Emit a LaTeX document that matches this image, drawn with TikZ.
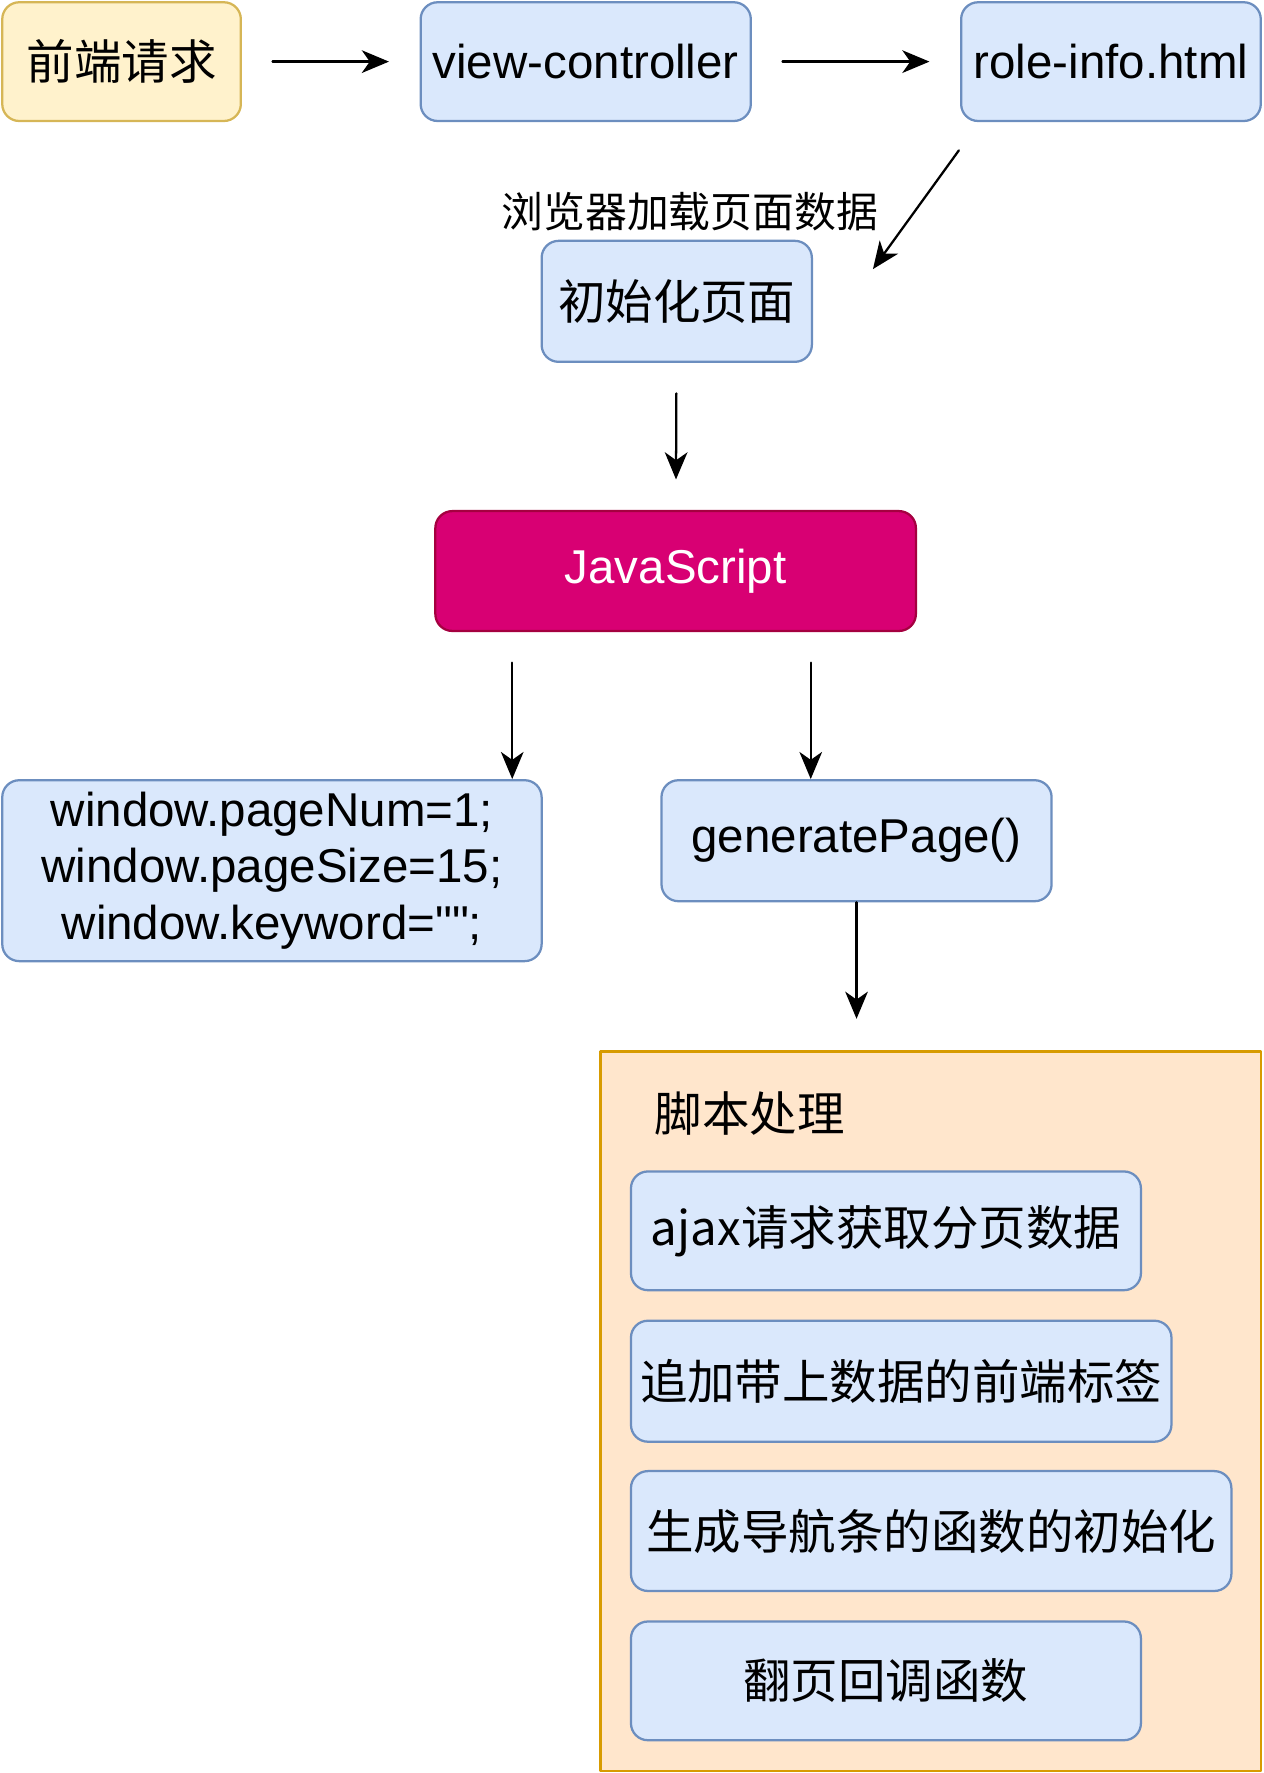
\documentclass[tikz,border=0pt]{standalone}
\usepackage{fontspec}
\setmainfont{Liberation Sans}[Ligatures=TeXOff]
\newfontfamily\cjk{Noto Sans CJK SC}
\usetikzlibrary{arrows.meta}
\definecolor{bluefill}{HTML}{DAE8FC}
\definecolor{blueline}{HTML}{6C8EBF}
\definecolor{yelfill}{HTML}{FFF2CC}
\definecolor{yelline}{HTML}{D6B656}
\definecolor{pinkfill}{HTML}{D80073}
\definecolor{pinkline}{HTML}{A50040}
\definecolor{orfill}{HTML}{FFE6CC}
\definecolor{orline}{HTML}{D79B00}
\begin{document}
\begin{tikzpicture}[x=1pt,y=-1pt,line cap=round,line join=round,
  box/.style={draw=blueline,fill=bluefill,line width=2pt,rounded corners=15pt,
    inner sep=0pt,align=center,font=\fontsize{42pt}{50pt}\selectfont},
  arr/.style={-{Stealth[length=24pt,width=20pt,inset=7pt]},line width=2pt}]
\useasboundingbox (0,0) rectangle (1117,1568);
% top row
\node[box,draw=yelline,fill=yelfill,minimum width=211pt,minimum height=105pt] (req) at (107.5,54.5) {\cjk 前端请求};
\node[box,minimum width=292pt,minimum height=105pt] (vc) at (518,54.5) {view-controller};
\node[box,minimum width=265pt,minimum height=105pt] (role) at (982.5,54.5) {role-info.html};
\draw[arr,shorten <=27pt,shorten >=27pt] (req) -- (vc);
\draw[arr,shorten <=27pt,shorten >=27pt] (vc) -- (role);
% page loading
\coordinate (loadS) at (848,133);
\coordinate (loadE) at (772,238);
\draw[arr] (loadS) -- (loadE);
\node[font=\fontsize{37pt}{44pt}\selectfont\cjk] (load) at (610,187) {浏览器加载页面数据};
\node[box,minimum width=239pt,minimum height=107pt] (init) at (598.5,266.5) {\cjk 初始化页面};
\node[box,draw=pinkline,fill=pinkfill,text=white,minimum width=425pt,minimum height=106pt] (js) at (597.5,505) {JavaScript};
\draw[arr,shorten <=27pt,shorten >=27pt] (init) -- (js);
% js branches
\node[box,minimum width=477pt,minimum height=160pt] (win) at (240.5,770)
  {window.pageNum=1;\\window.pageSize=15;\\window.keyword="";};
\node[box,minimum width=345pt,minimum height=107pt] (gen) at (757.5,743.5) {generatePage()};
\draw[arr,shorten <=27pt] ([xshift=-144.5pt]js.south) -- ([xshift=-144.5pt]js.south |- win.north);
\draw[arr,shorten <=27pt] ([xshift=119.5pt]js.south) -- ([xshift=119.5pt]js.south |- gen.north);
% script handling
\node[draw=orline,fill=orfill,line width=2pt,minimum width=584pt,minimum height=636pt] (proc) at (823,1248) {};
\draw[arr,shorten >=28pt] (gen.south) -- (gen.south |- proc.north);
\node[font=\fontsize{42pt}{50pt}\selectfont\cjk] (proct) at (663,985) {脚本处理};
\node[box,minimum width=451pt,minimum height=105pt] (ajax) at (783.5,1088.5) {\cjk ajax请求获取分页数据};
\node[box,minimum width=478pt,minimum height=107pt] (tags) at (797,1221.5) {\cjk 追加带上数据的前端标签};
\node[box,minimum width=531pt,minimum height=106pt] (nav) at (823.5,1354) {\cjk 生成导航条的函数的初始化};
\node[box,minimum width=451pt,minimum height=105pt] (turn) at (783.5,1486.5) {\cjk 翻页回调函数};
\end{tikzpicture}
\end{document}
